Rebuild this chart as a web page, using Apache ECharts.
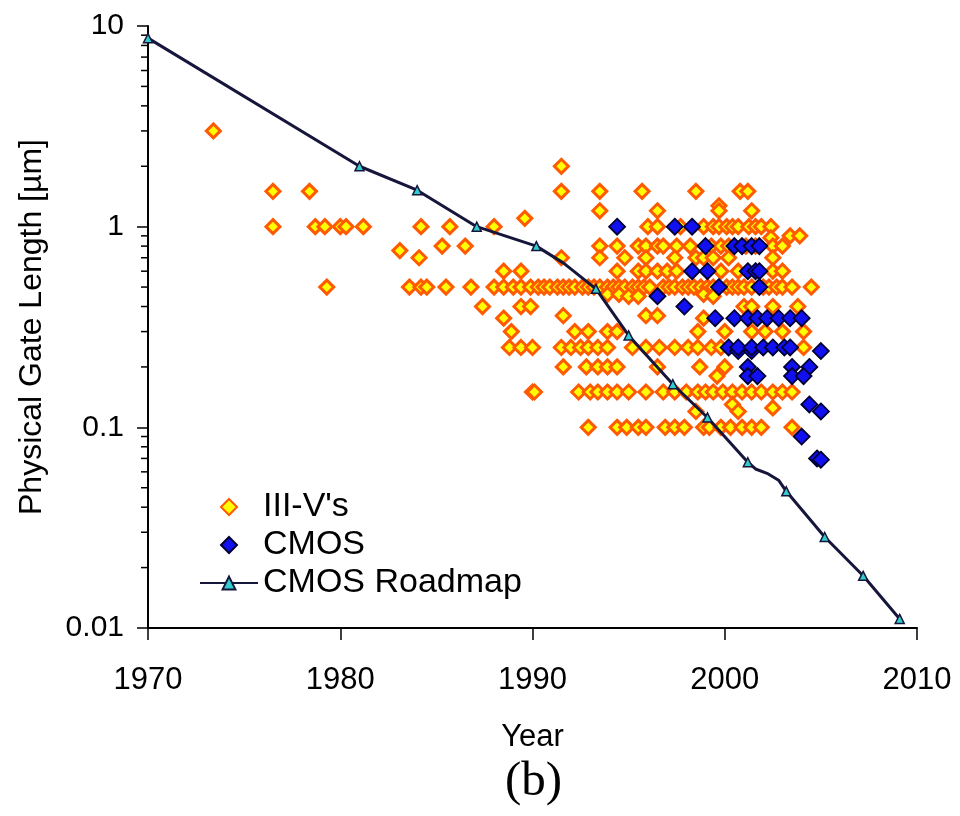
<!DOCTYPE html>
<html><head><meta charset="utf-8">
<script src="https://cdn.jsdelivr.net/npm/echarts@6/dist/echarts.min.js"></script>
<style>html,body{margin:0;padding:0;background:#fff}#c{width:960px;height:816px}</style>
</head><body><div id="c"></div><script>
// ---- data ----
const xTicks = [1970, 1980, 1990, 2000, 2010];
const yMinorTicks = [0.02,0.03,0.04,0.05,0.06,0.07,0.08,0.09,0.2,0.3,0.4,0.5,0.6,0.7,0.8,0.9,2,3,4,5,6,7,8,9];

// III-V's: [year, gate length µm]
const iiivPoints = [
 [1973.4,3.0],
 [1991.5,2.0],
 [1976.5,1.5],[1978.4,1.5],[1991.5,1.5],[1993.5,1.5],[1995.7,1.5],[1998.5,1.5],[2000.8,1.5],[2001.2,1.5],
 [1999.7,1.27],
 [1993.5,1.2],[1996.5,1.2],[1999.7,1.2],[2001.4,1.2],
 [1989.6,1.1],
 [1976.5,1],[1978.7,1],[1979.2,1],[1980.0,1],[1980.3,1],[1981.2,1],[1984.2,1],[1985.7,1],[1988.0,1],[1996.0,1],[1996.5,1],[1997.7,1],[1998.9,1],[1999.4,1],[1999.7,1],[2000.1,1],[2000.4,1],[2000.7,1],[2001.25,1],[2001.6,1],[2001.9,1],[2002.4,1],
 [2003.4,0.9],[2003.9,0.9],[2002.4,0.88],
 [1983.1,0.76],
 [1985.3,0.8],[1986.5,0.8],[1993.5,0.8],[1994.4,0.8],[1995.5,0.8],[1995.9,0.8],[1996.5,0.8],[1996.8,0.8],[1997.5,0.8],[1998.2,0.8],[1999.3,0.8],[1999.8,0.8],[2000.2,0.8],[2001.1,0.8],[2001.6,0.8],[2002.5,0.8],[2003.0,0.8],
 [1984.1,0.7],[1991.5,0.7],[1993.5,0.7],[1994.8,0.7],[1995.9,0.7],[1997.4,0.7],[1998.5,0.7],[1998.9,0.7],[1999.4,0.7],[2000.2,0.7],[2002.5,0.7],
 [1988.5,0.6],[1989.4,0.6],[1994.4,0.6],[1995.5,0.6],[1995.9,0.6],[1996.5,0.6],[1997.0,0.6],[1997.5,0.6],[1999.8,0.6],[2000.7,0.6],[2002.5,0.6],[2003.0,0.6],
 [1979.3,0.5],[1983.6,0.5],[1984.2,0.5],[1984.5,0.5],[1985.5,0.5],[1986.8,0.5],[1988.0,0.5],[1988.5,0.5],[1989.0,0.5],[1989.4,0.5],[1989.9,0.5],[1990.3,0.5],[1990.6,0.5],[1990.9,0.5],[1991.3,0.5],[1991.6,0.5],[1991.9,0.5],[1992.2,0.5],[1992.6,0.5],[1992.9,0.5],[1993.2,0.5],[1993.5,0.5],[1993.9,0.5],[1994.2,0.5],[1994.5,0.5],[1994.8,0.5],[1995.2,0.5],[1995.5,0.5],[1995.8,0.5],[1996.1,0.5],[1996.8,0.5],[1997.1,0.5],[1997.4,0.5],[1997.8,0.5],[1998.1,0.5],[1998.4,0.5],[1998.75,0.5],[1999.1,0.5],[1999.4,0.5],[2000.1,0.5],[2000.4,0.5],[2000.7,0.5],[2001.0,0.5],[2001.4,0.5],[2002.0,0.5],[2002.3,0.5],[2002.7,0.5],[2003.0,0.5],[2003.5,0.5],[2004.5,0.5],
 [1993.9,0.46],[1994.5,0.46],[1995.0,0.45],[1995.5,0.45],[1998.9,0.46],[1999.4,0.45],
 [1987.4,0.4],[1989.4,0.4],[1989.9,0.4],[2001.0,0.4],[2001.4,0.4],[2002.5,0.4],[2003.8,0.4],
 [1988.5,0.35],[1991.6,0.36],[1995.9,0.36],[1996.5,0.36],[1998.9,0.35],
 [1988.9,0.3],[1992.2,0.3],[1992.9,0.3],[1993.9,0.3],[1994.4,0.3],[1998.6,0.3],[2000.0,0.3],[2001.4,0.3],[2002.1,0.3],[2003.0,0.3],[2004.1,0.3],
 [1988.8,0.25],[1989.4,0.25],[1990.0,0.25],[1991.5,0.25],[1992.0,0.25],[1992.5,0.25],[1992.9,0.25],[1993.4,0.25],[1993.9,0.25],[1995.2,0.25],[1995.9,0.25],[1996.6,0.25],[1997.4,0.25],[1998.1,0.25],[1998.6,0.25],[1999.3,0.25],[1999.8,0.25],[2004.1,0.25],
 [1991.6,0.2],[1992.8,0.2],[1993.4,0.2],[1993.9,0.2],[1994.4,0.2],[1996.5,0.2],[1998.7,0.2],[2000.0,0.2],
 [1999.6,0.18],
 [1990.0,0.15],[1990.1,0.15],[1992.4,0.15],[1993.0,0.15],[1993.4,0.15],[1993.9,0.15],[1994.4,0.15],[1995.0,0.15],[1995.9,0.15],[1996.8,0.15],[1997.4,0.15],[1998.0,0.15],[1998.6,0.15],[1999.0,0.15],[1999.4,0.15],[1999.9,0.15],[2000.4,0.15],[2000.9,0.15],[2001.4,0.15],[2001.9,0.15],[2002.5,0.15],[2003.0,0.15],[2003.5,0.15],
 [2000.4,0.13],[2002.5,0.125],[1998.5,0.12],[2000.7,0.12],
 [1992.9,0.1],[1994.4,0.1],[1994.9,0.1],[1995.5,0.1],[1995.9,0.1],[1996.9,0.1],[1997.4,0.1],[1997.9,0.1],[1998.9,0.1],[1999.2,0.1],[1999.8,0.1],[2000.3,0.1],[2000.9,0.1],[2001.4,0.1],[2001.9,0.1],[2003.5,0.1]
];

// CMOS: [year, gate length µm]
const cmosPoints = [
 [1994.4,1.0],[1997.4,1.0],[1998.3,1.0],
 [1999.0,0.8],[2000.5,0.8],[2000.9,0.8],[2001.4,0.8],[2001.8,0.8],
 [1998.3,0.6],[1999.1,0.6],[2001.2,0.6],[2001.6,0.6],[2001.8,0.6],
 [1999.7,0.5],[2001.8,0.5],
 [1996.5,0.45],[1997.9,0.4],
 [1999.5,0.35],[2000.5,0.35],[2001.2,0.35],[2001.7,0.35],[2002.2,0.35],[2002.8,0.35],[2003.4,0.35],[2004.0,0.35],
 [2000.2,0.25],[2000.7,0.24],[2000.7,0.25],[2001.4,0.24],[2001.4,0.25],[2002.0,0.25],[2002.5,0.25],[2003.1,0.25],[2003.4,0.25],
 [2005.0,0.24],
 [2001.2,0.2],[2003.5,0.2],[2004.4,0.2],
 [2001.2,0.18],[2001.7,0.18],[2003.5,0.18],[2004.1,0.18],
 [2004.4,0.13],[2005.0,0.12],[2004.0,0.09],[2004.8,0.07],[2005.0,0.069]
];

// CMOS Roadmap
const roadmapYears  = [1970, 1981.0, 1984.0, 1987.1, 1990.2, 1991.6, 1993.3, 1995.0, 1997.3, 1999.1, 2001.2, 2001.6, 2002.2, 2002.8, 2003.2, 2005.2, 2007.2, 2009.1];
const roadmapValues = [8.7,  2.0,    1.52,   1.0,    0.8,    0.66,   0.49,   0.287,  0.164,  0.112,  0.067,  0.062,  0.059,  0.0545, 0.048,  0.0284, 0.0182, 0.0111];
const roadmapMarked = [true, true,   true,   true,   true,   false,  true,   true,   true,   true,   true,   false,  false,  false,  true,   true,   true,   true];

// ---- chart ----
const FONT = '"Liberation Sans", Arial, sans-serif';
const chart = echarts.init(document.getElementById('c'), null, {renderer: 'canvas'});
const roadmapData = roadmapYears.map((y, i) => ({
  value: [y, roadmapValues[i]],
  symbol: roadmapMarked[i] ? 'triangle' : 'none'
}));
const minorData = yMinorTicks.map(v => [xTicks[0], v]);
const legendText = {fontFamily: FONT, fontSize: 34, color: '#000'};

chart.setOption({
  animation: false,
  backgroundColor: '#fff',
  grid: {left: 148, right: 43, top: 26, bottom: 188, containLabel: false},
  xAxis: {
    type: 'value', min: 1970, max: 2010, interval: 10,
    name: 'Year', nameLocation: 'middle', nameGap: 94,
    nameTextStyle: {fontFamily: FONT, fontSize: 31, color: '#000'},
    axisLine: {show: true, onZero: false, lineStyle: {color: '#000', width: 2}},
    axisTick: {show: true, inside: false, length: 12, lineStyle: {color: '#000', width: 1.5}},
    axisLabel: {fontFamily: FONT, fontSize: 31, color: '#000', margin: 37, formatter: v => String(v)},
    splitLine: {show: false}
  },
  yAxis: {
    type: 'log', logBase: 10, min: 0.01, max: 10,
    name: 'Physical Gate Length [µm]', nameLocation: 'middle', nameGap: 100, nameRotate: 90,
    nameTextStyle: {fontFamily: FONT, fontSize: 32, color: '#000'},
    axisLine: {show: true, onZero: false, lineStyle: {color: '#000', width: 2}},
    axisTick: {show: true, inside: false, length: 11, lineStyle: {color: '#000', width: 1.5}},
    axisLabel: {fontFamily: FONT, fontSize: 30, color: '#000', margin: 24,
      formatter: v => String(v)},
    splitLine: {show: false},
    minorTick: {show: false}
  },
  legend: [{
    orient: 'vertical', left: 215, top: 485, itemGap: 4,
    itemWidth: 16, itemHeight: 16,
    textStyle: Object.assign({padding: [0, 0, 0, 21]}, legendText),
    data: ["III-V's", 'CMOS']
  }, {
    orient: 'vertical', left: 194, top: 561, itemGap: 4,
    itemWidth: 58, itemHeight: 16,
    textStyle: legendText,
    data: ['CMOS Roadmap']
  }],
  graphic: [{
    type: 'text', left: 505, top: 758,
    style: {text: '(b)', fontFamily: '"Liberation Serif", "Times New Roman", serif', fontSize: 49, fill: '#000'}
  }],
  series: [
    {
      type: 'custom', name: 'minorTicks', silent: true, clip: false,
      renderItem: (params, api) => {
        const p = api.coord([api.value(0), api.value(1)]);
        return {type: 'line', shape: {x1: p[0] - 7, y1: p[1], x2: p[0], y2: p[1]},
                style: {stroke: '#000', lineWidth: 1.5}};
      },
      data: minorData
    },
    {
      type: 'scatter', name: "III-V's", symbol: 'diamond', symbolSize: 14,
      itemStyle: {color: '#ffff00', borderColor: '#ff5a00', borderWidth: 3, opacity: 1},
      data: iiivPoints
    },
    {
      type: 'scatter', name: 'CMOS', symbol: 'diamond', symbolSize: 16,
      itemStyle: {color: '#1010f0', borderColor: '#000033', borderWidth: 1.8, opacity: 1},
      data: cmosPoints
    },
    {
      type: 'line', name: 'CMOS Roadmap', symbol: 'triangle', symbolSize: 9, showAllSymbol: true,
      lineStyle: {color: '#16163c', width: 3},
      itemStyle: {color: '#33cccc', borderColor: '#16163c', borderWidth: 1.5},
      data: roadmapData
    }
  ]
});
</script></body></html>
